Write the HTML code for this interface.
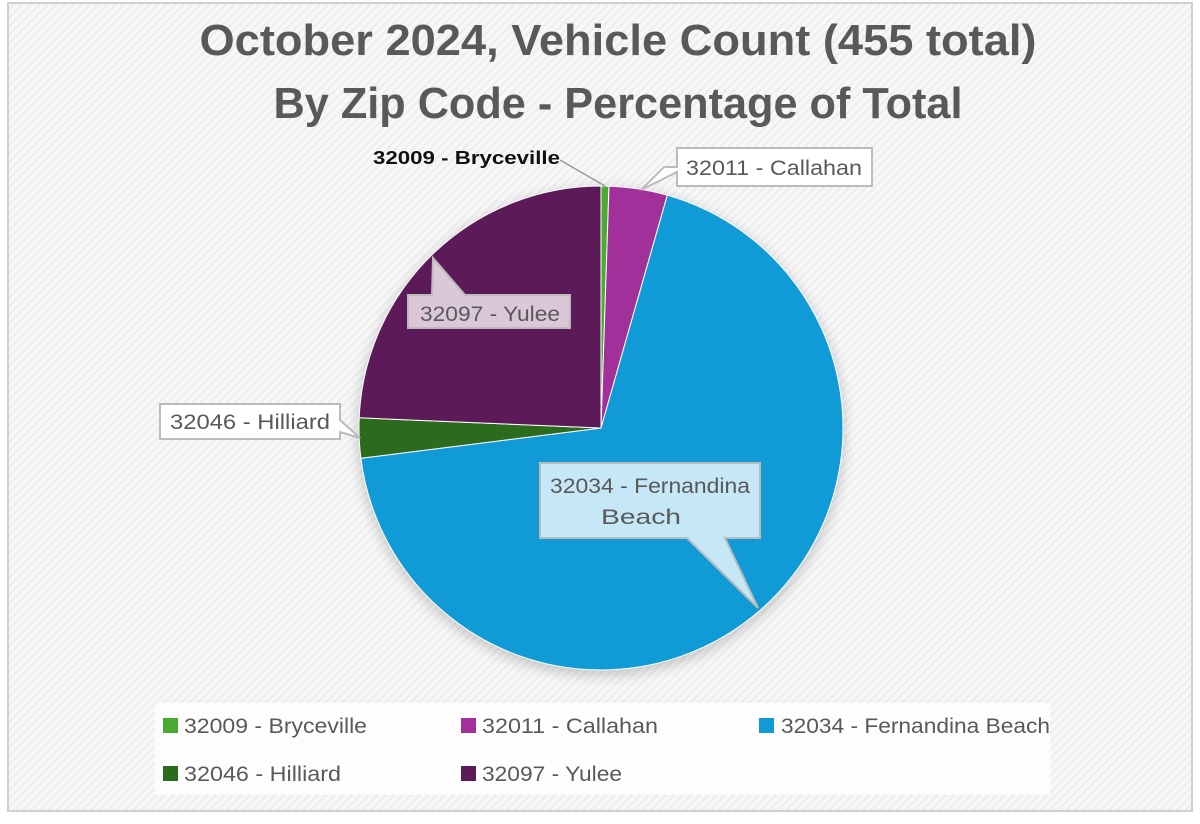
<!DOCTYPE html>
<html><head><meta charset="utf-8"><style>
html,body{margin:0;padding:0;background:#fff;}
svg{display:block;}
</style></head><body>
<svg width="1200" height="824" viewBox="0 0 1200 824" xmlns="http://www.w3.org/2000/svg" font-family="Liberation Sans, sans-serif">
<defs>
<pattern id="h" width="6" height="6" patternUnits="userSpaceOnUse" patternTransform="rotate(45)">
<rect width="6" height="6" fill="#f7f7f7"/><rect width="2" height="6" fill="#ededed"/>
</pattern>
<filter id="sh" x="-20%" y="-20%" width="140%" height="140%"><feGaussianBlur stdDeviation="6"/></filter>
</defs>
<rect x="8" y="3" width="1184" height="808" fill="url(#h)" stroke="#d0d0d0" stroke-width="2"/>
<text x="618" y="55" text-anchor="middle" font-size="44" font-weight="bold" fill="#595959" textLength="837" lengthAdjust="spacingAndGlyphs">October 2024, Vehicle Count (455 total)</text>
<text x="618" y="118" text-anchor="middle" font-size="44" font-weight="bold" fill="#595959" textLength="689" lengthAdjust="spacingAndGlyphs">By Zip Code - Percentage of Total</text>
<circle cx="601" cy="432" r="244" fill="#000" opacity="0.18" filter="url(#sh)"/>
<g stroke="#fff" stroke-width="1">
<path d="M601,428 L601,186 A242,242 0 0,1 609,186.1 Z" fill="#4aaa32"/>
<path d="M601,428 L609,186.1 A242,242 0 0,1 667.3,195.2 Z" fill="#a2309a"/>
<path d="M601,428 L667.3,195.2 A242,242 0 1,1 360.9,458.3 Z" fill="#109ad6"/>
<path d="M601,428 L360.9,458.3 A242,242 0 0,1 359.2,417.8 Z" fill="#2c6b1e"/>
<path d="M601,428 L359.2,417.8 A242,242 0 0,1 601,186 Z" fill="#5d1a58"/>
</g>
<text x="373" y="164" font-size="18" font-weight="bold" fill="#111" textLength="187" lengthAdjust="spacingAndGlyphs">32009 - Bryceville</text>
<line x1="560" y1="160" x2="605" y2="186" stroke="#999" stroke-width="1.5"/>
<path d="M677,148 H872 V186 H677 V172 L641,190 L664,167 L677,167 Z" fill="#fff" stroke="#bbb" stroke-width="2"/>
<text x="686" y="175" font-size="21" fill="#595959" textLength="176" lengthAdjust="spacingAndGlyphs">32011 - Callahan</text>
<path d="M408,295 H432 L433,258 L465,295 H570 V328 H408 Z" fill="#dac7d8" stroke="#bbb" stroke-width="2"/>
<text x="420" y="321" font-size="21" fill="#595959" textLength="140" lengthAdjust="spacingAndGlyphs">32097 - Yulee</text>
<path d="M160,404 H340 V420 L360,438 L340,432 V439 H160 Z" fill="#fff" stroke="#bbb" stroke-width="2"/>
<text x="170" y="429" font-size="21" fill="#595959" textLength="160" lengthAdjust="spacingAndGlyphs">32046 - Hilliard</text>
<path d="M540,463 H760 V538 H725 L758,608 L687,538 H540 Z" fill="#c6e7f5" stroke="#bbb" stroke-width="2"/>
<text x="650" y="493" text-anchor="middle" font-size="21" fill="#595959" textLength="200" lengthAdjust="spacingAndGlyphs">32034 - Fernandina</text>
<text x="641" y="524" text-anchor="middle" font-size="21" fill="#595959" textLength="80" lengthAdjust="spacingAndGlyphs">Beach</text>
<rect x="155" y="703" width="895" height="92" fill="#fdfdfd"/>
<g font-size="21" fill="#595959">
<rect x="163" y="718" width="15" height="15" fill="#4aaa32"/><text x="184" y="733" textLength="183" lengthAdjust="spacingAndGlyphs">32009 - Bryceville</text>
<rect x="461" y="718" width="15" height="15" fill="#a2309a"/><text x="482" y="733" textLength="176" lengthAdjust="spacingAndGlyphs">32011 - Callahan</text>
<rect x="759" y="718" width="15" height="15" fill="#109ad6"/><text x="781" y="733" textLength="269" lengthAdjust="spacingAndGlyphs">32034 - Fernandina Beach</text>
<rect x="163" y="766" width="15" height="15" fill="#2c6b1e"/><text x="184" y="781" textLength="157" lengthAdjust="spacingAndGlyphs">32046 - Hilliard</text>
<rect x="461" y="766" width="15" height="15" fill="#5d1a58"/><text x="482" y="781" textLength="140" lengthAdjust="spacingAndGlyphs">32097 - Yulee</text>
</g>
</svg>
</body></html>
